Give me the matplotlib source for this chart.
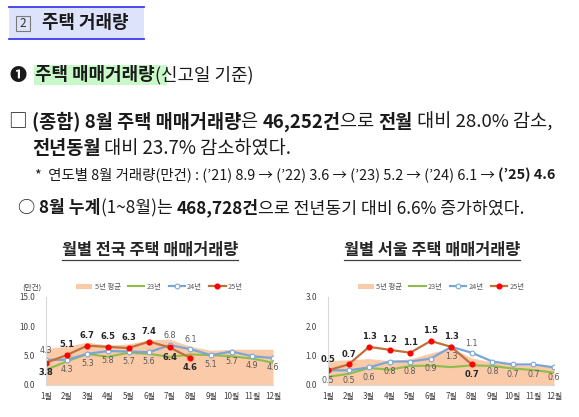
import matplotlib
matplotlib.use("Agg")
import matplotlib.pyplot as plt
from matplotlib.patches import Rectangle
from matplotlib.lines import Line2D

W, H = 579, 417
FAM = ["Noto Sans CJK KR", "DejaVu Sans"]

months = [f"{m}월" for m in range(1, 13)]

# 전국 (만건)
nat_avg5 = [6.2, 6.6, 7.3, 6.8, 7.0, 7.7, 7.8, 6.6, 5.9, 6.1, 6.1, 6.1]
nat_23 = [2.6, 4.0, 5.3, 4.8, 5.5, 5.3, 4.8, 5.2, 5.1, 4.9, 4.5, 3.8]
nat_24 = [4.3, 4.3, 5.3, 5.8, 5.7, 5.6, 6.8, 6.1, 5.1, 5.7, 4.9, 4.6]
nat_25 = [3.8, 5.1, 6.7, 6.5, 6.3, 7.4, 6.4, 4.6]

# 서울 (만건)
seoul_avg5 = [0.83, 0.86, 0.90, 0.83, 0.89, 1.09, 1.26, 0.92, 0.78, 0.69, 0.66, 0.67]
seoul_23 = [0.28, 0.38, 0.58, 0.52, 0.65, 0.66, 0.61, 0.67, 0.65, 0.56, 0.51, 0.42]
seoul_24 = [0.5, 0.5, 0.6, 0.8, 0.8, 0.9, 1.3, 1.1, 0.8, 0.7, 0.7, 0.6]
seoul_25 = [0.5, 0.7, 1.3, 1.2, 1.1, 1.5, 1.3, 0.7]

fig = plt.figure(figsize=(W / 100, H / 100), dpi=100)
fig.patch.set_facecolor("white")
rend = fig.canvas.get_renderer()


def fx(x):
    return x / W


def fy(y):
    return 1 - y / H


def run(pieces, x, y, size, x_end=None, color="#1a1a1a", ha_pieces=None):
    # pieces: (text, bold) drawn one after another on one line
    def place(sz):
        arts, cx = [], x
        for txt, bold in pieces:
            t = fig.text(fx(cx), fy(y), txt, fontsize=sz, family=FAM,
                         fontweight="bold" if bold else "normal",
                         color=color, ha="left", va="center")
            cx = t.get_window_extent(rend).x1
            arts.append(t)
        return arts, cx
    arts, cx = place(size)
    if x_end is not None:
        for a in arts:
            a.remove()
        arts, cx = place(size * (x_end - x) / (cx - x))
    return arts


# header box
fig.patches.append(Rectangle((fx(9), fy(39)), fx(135), 32 / H, transform=fig.transFigure,
                             facecolor="#dde3fb", edgecolor="none"))
for yy in (7, 39):
    fig.add_artist(Line2D([fx(9), fx(144)], [fy(yy), fy(yy)], color="#3b3bef", lw=1.3))
fig.patches.append(Rectangle((fx(16), fy(31)), 14 / W, 15 / H, transform=fig.transFigure,
                             facecolor="none", edgecolor="#7a7a7a", lw=0.8))
fig.text(fx(23), fy(23.5), "2", fontsize=8.5, family=FAM, color="#333333",
         ha="center", va="center")
run([("주택 거래량", True)], 42, 23, 10.5, x_end=128)

# section title
fig.patches.append(Rectangle((fx(34), fy(85)), 133 / W, 20 / H, transform=fig.transFigure,
                             facecolor="#c9f8c9", edgecolor="none"))
run([("❶", True)], 9, 75, 11, x_end=26)
run([("주택 매매거래량", True), ("(신고일 기준)", False)], 35, 75, 11, x_end=252)

# body
run([("□ ", False), ("(종합) 8월 주택 매매거래량", True), ("은 ", False),
     ("46,252건", True), ("으로 ", False), ("전월", True),
     (" 대비 28.0% 감소,", False)], 9, 122, 11, x_end=551)
run([("전년동월", True), (" 대비 23.7% 감소하였다.", False)], 32, 149, 11, x_end=291)
run([("*  연도별 8월 거래량(만건) : (’21) 8.9 → (’22) 3.6 → (’23) 5.2 → (’24) 6.1 → ", False),
     ("(’25) 4.6", True)], 35, 175, 8, x_end=558)
run([("○ ", False), ("8월 누계", True), ("(1~8월)는 ", False), ("468,728건", True),
     ("으로 전년동기 대비 6.6% 증가하였다.", False)], 18, 208, 11, x_end=523)


def chart(left, right, title, title_x0, avg5, y23, y24, y25, ymax, step,
          pos24, pos25, unit=None):
    ax = fig.add_axes([fx(left), fy(385), (right - left) / W, 88 / H])
    x = list(range(12))
    ax.fill_between(x, avg5, color="#fbcaa9", lw=0, label="5년 평균")
    ax.plot(x, y23, color="#8dbd4a", lw=1.5, label="23년")
    ax.plot(x, y24, color="#7aa6d6", lw=1.6, marker="o", ms=3.4,
            mfc="white", mec="#7aa6d6", mew=0.8, label="24년")
    ax.plot(x[:len(y25)], y25, color="#c0703b", lw=1.6, marker="o", ms=3.4,
            mfc="#ff0000", mec="#ff0000", label="25년")
    for i, v in enumerate(y24):
        off = 7 if pos24[i] == "a" else -7
        ax.annotate(f"{v:.1f}", (i, v), xytext=(0, off), textcoords="offset points",
                    ha="center", va="center", fontsize=5.8, color="#595959")
    for i, v in enumerate(y25):
        off = 7.5 if pos25[i] == "a" else -7
        ax.annotate(f"{v:.1f}", (i, v), xytext=(0, off), textcoords="offset points",
                    ha="center", va="center", fontsize=6, color="#262626",
                    fontweight="bold")
    ax.set_xlim(0, 11)
    ax.set_ylim(0, ymax)
    ax.set_yticks([i * step for i in range(4)])
    ax.set_yticklabels([f"{i * step:.1f}" for i in range(4)], family=FAM)
    ax.set_xticks(x)
    ax.set_xticklabels(months, family=FAM)
    ax.tick_params(length=0, labelsize=5.8, labelcolor="#404040")
    ax.tick_params(axis="y", pad=8)
    ax.tick_params(axis="x", pad=5)
    for s in ("top", "right"):
        ax.spines[s].set_visible(False)
    ax.spines["left"].set_color("#d9d9d9")
    ax.spines["bottom"].set_color("#d9d9d9")
    ax.set_facecolor("none")
    leg = ax.legend(loc="lower center", bbox_to_anchor=(0.5, 1.02), ncol=4,
                    frameon=False, prop={"family": FAM, "size": 5.3},
                    handlelength=2.2, columnspacing=1.0, handletextpad=0.3,
                    borderaxespad=0.2)
    for t in leg.get_texts():
        t.set_color("#595959")
    if unit:
        fig.text(fx(left - 24), fy(288), unit, fontsize=5.5, family=FAM,
                 color="#404040", ha="left", va="center")
    t = run([(title, True)], title_x0, 250, 10, x_end=title_x0 + 176, color="#262626")[0]
    bb = t.get_window_extent(rend)
    fig.add_artist(Line2D([bb.x0 / W, bb.x1 / W], [fy(260)] * 2, color="#404040", lw=0.9))
    return ax


chart(46, 273, "월별 전국 주택 매매거래량", 62, nat_avg5, nat_23, nat_24, nat_25,
      15.0, 5.0, "abbbbbaabbbb", "baaaaabb", unit="(만건)")
chart(328, 554, "월별 서울 주택 매매거래량", 344, seoul_avg5, seoul_23, seoul_24, seoul_25,
      3.0, 1.0, "bbbbbbbabbbb", "aaaaaaab")

fig.savefig("out.png", dpi=100, facecolor="white")
